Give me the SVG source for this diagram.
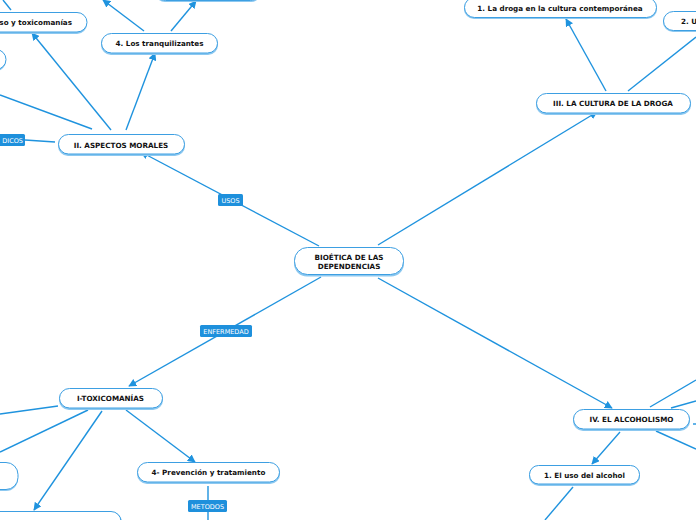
<svg xmlns="http://www.w3.org/2000/svg" width="696" height="520" viewBox="0 0 696 520">
<style>
.nb{fill:#8cc8f0}
.n{fill:#fff;stroke:#3d9fe2;stroke-width:1}
.t{font-family:"DejaVu Sans",Verdana,sans-serif;font-weight:bold;font-size:7.2px;fill:#111;text-anchor:middle}
.c line{stroke:#1f93de;stroke-width:1.4;fill:none}
.lb{fill:#1e90dc}
.lt{font-family:"DejaVu Sans",Verdana,sans-serif;font-size:6.5px;fill:#fff;text-anchor:middle}
</style>
<defs>
<marker id="a" viewBox="0 0 10 10" refX="9" refY="5" markerWidth="8" markerHeight="8" markerUnits="userSpaceOnUse" orient="auto">
<path d="M0,0 L10,5 L0,10 z" fill="#1f93de"/>
</marker>
</defs>
<rect width="696" height="520" fill="#fff"/>
<g class="c" id="connectors">
<line x1="319" y1="246" x2="141" y2="152" marker-end="url(#a)"/>
<line x1="378" y1="245" x2="597" y2="112" marker-end="url(#a)"/>
<line x1="321" y1="277" x2="129" y2="386" marker-end="url(#a)"/>
<line x1="378" y1="278" x2="612" y2="408" marker-end="url(#a)"/>
<line x1="126" y1="130" x2="155" y2="53" marker-end="url(#a)"/>
<line x1="111" y1="130" x2="32" y2="33" marker-end="url(#a)"/>
<line x1="92" y1="129" x2="0" y2="95"/>
<line x1="55" y1="142" x2="25" y2="140"/>
<line x1="144" y1="31" x2="103" y2="0" marker-end="url(#a)"/>
<line x1="171" y1="31" x2="196" y2="1" marker-end="url(#a)"/>
<line x1="11" y1="10" x2="3" y2="0"/>
<line x1="606" y1="91" x2="566" y2="19" marker-end="url(#a)"/>
<line x1="628" y1="91" x2="696" y2="37"/>
<line x1="58" y1="406" x2="0" y2="414"/>
<line x1="88" y1="410" x2="0" y2="452"/>
<line x1="102" y1="411" x2="34" y2="510" marker-end="url(#a)"/>
<line x1="126" y1="410" x2="195" y2="462" marker-end="url(#a)"/>
<line x1="208" y1="486" x2="208" y2="520"/>
<line x1="650" y1="407" x2="696" y2="380"/>
<line x1="671" y1="408" x2="696" y2="401"/>
<line x1="693" y1="424" x2="696" y2="424"/>
<line x1="656" y1="431" x2="696" y2="449"/>
<line x1="620" y1="432" x2="592" y2="464" marker-end="url(#a)"/>
<line x1="573" y1="487" x2="545" y2="520"/>
</g>
<g id="lbl-usos"><rect class="lb" x="218" y="194" width="25" height="12" rx="1.5"/><text class="lt" x="230.5" y="202.5">USOS</text></g>
<g id="lbl-enfermedad"><rect class="lb" x="200" y="325" width="52" height="12" rx="1.5"/><text class="lt" x="226" y="333.5">ENFERMEDAD</text></g>
<g id="lbl-metodos"><rect class="lb" x="188" y="500" width="39" height="12" rx="1.5"/><text class="lt" x="207.5" y="508.5">METODOS</text></g>
<g id="lbl-dicos"><rect class="lb" x="-10" y="134" width="35" height="12" rx="1.5"/><text class="lt" x="23" y="142.5" style="text-anchor:end">DICOS</text></g>
<g id="n-center"><rect class="nb" x="294" y="248.5" width="110" height="28" rx="13"/><rect class="n" x="294.5" y="247.5" width="109" height="27" rx="13"/><text class="t" x="349" y="260">BIOÉTICA DE LAS</text><text class="t" x="349" y="269">DEPENDENCIAS</text></g>
<g id="n-morales"><rect class="nb" x="58" y="135" width="127" height="21" rx="10"/><rect class="n" x="58.5" y="134.5" width="126" height="19.5" rx="10"/><text class="t" x="121" y="147.5">II. ASPECTOS MORALES</text></g>
<g id="n-tranq"><rect class="nb" x="101" y="34" width="117" height="21" rx="10"/><rect class="n" x="101.5" y="33.5" width="116" height="19.5" rx="10"/><text class="t" x="159.5" y="46">4. Los tranquilizantes</text></g>
<g id="n-toxuso"><rect class="nb" x="-20" y="13" width="107" height="21" rx="10"/><rect class="n" x="-20" y="12.5" width="107" height="19.5" rx="10"/><text class="t" x="72" y="25" style="text-anchor:end">so y toxicomanías</text></g>
<g id="n-left1"><rect class="nb" x="-40" y="50" width="46" height="21" rx="10"/><rect class="n" x="-40" y="49.5" width="46" height="20" rx="10"/></g>
<g id="n-top"><rect class="nb" x="155" y="-20" width="106" height="22" rx="10"/><rect class="n" x="155.5" y="-20" width="105" height="20.5" rx="10"/></g>
<g id="n-cultura"><rect class="nb" x="536" y="94" width="155" height="21" rx="10"/><rect class="n" x="536.5" y="93.5" width="154" height="19.5" rx="10"/><text class="t" x="613" y="106">III. LA CULTURA DE LA DROGA</text></g>
<g id="n-droga"><rect class="nb" x="464" y="-2" width="193" height="21" rx="10"/><rect class="n" x="464.5" y="-2.5" width="192" height="20" rx="10"/><text class="t" x="560" y="10.5">1. La droga en la cultura contemporánea</text></g>
<g id="n-u"><rect class="nb" x="663" y="12" width="60" height="20" rx="10"/><rect class="n" x="663.5" y="11.5" width="60" height="19" rx="10"/><text class="t" x="681" y="24" style="text-anchor:start">2. U</text></g>
<g id="n-toxicomanias"><rect class="nb" x="59" y="389" width="104" height="21" rx="10"/><rect class="n" x="59.5" y="388.5" width="103" height="19.5" rx="10"/><text class="t" x="110.5" y="401">I-TOXICOMANÍAS</text></g>
<g id="n-prevencion"><rect class="nb" x="137" y="463" width="143" height="21" rx="10"/><rect class="n" x="137.5" y="462.5" width="142" height="19.5" rx="10"/><text class="t" x="208.5" y="475">4- Prevención y tratamiento</text></g>
<g id="n-left2"><rect class="nb" x="-40" y="463" width="58" height="28" rx="12"/><rect class="n" x="-40" y="462.5" width="58" height="27" rx="12"/></g>
<g id="n-bottom"><rect class="nb" x="-20" y="512" width="142" height="24" rx="10"/><rect class="n" x="-20" y="511.5" width="141" height="24" rx="10"/></g>
<g id="n-alcoholismo"><rect class="nb" x="573" y="410" width="117" height="21" rx="10"/><rect class="n" x="573.5" y="409.5" width="116" height="19.5" rx="10"/><text class="t" x="631.5" y="422">IV. EL ALCOHOLISMO</text></g>
<g id="n-alcohol"><rect class="nb" x="529" y="466" width="111" height="20" rx="10"/><rect class="n" x="529.5" y="465.5" width="110" height="18.5" rx="9"/><text class="t" x="584.5" y="477.5">1. El uso del alcohol</text></g>
</svg>
